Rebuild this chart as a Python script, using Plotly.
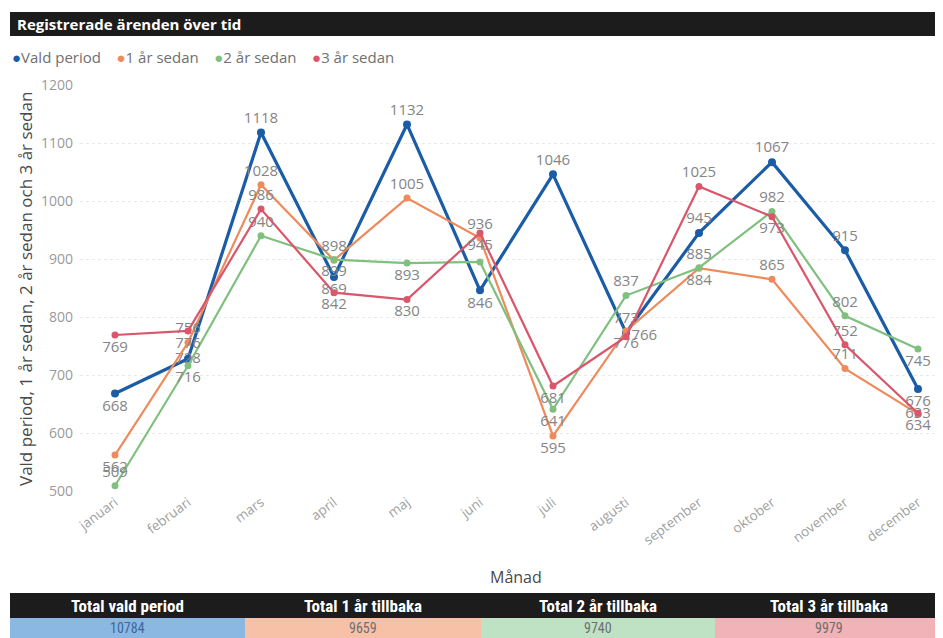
import plotly.graph_objects as go

# ---------------- data ----------------
months = ["januari", "februari", "mars", "april", "maj", "juni", "juli",
          "augusti", "september", "oktober", "november", "december"]
vald_period = [668, 728, 1118, 869, 1132, 846, 1046, 773, 945, 1067, 915, 676]
ar1_sedan = [562, 756, 1028, 898, 1005, 936, 595, 776, 884, 865, 711, 633]
ar2_sedan = [509, 716, 940, 899, 893, 895, 641, 837, 885, 982, 802, 745]
ar3_sedan = [769, 776, 986, 842, 830, 945, 681, 766, 1025, 973, 752, 634]
series_names = ["Vald period", "1 år sedan", "2 år sedan", "3 år sedan"]
y_ticks = [500, 600, 700, 800, 900, 1000, 1100, 1200]
total_labels = ["Total vald period", "Total 1 år tillbaka", "Total 2 år tillbaka", "Total 3 år tillbaka"]
totals = [10784, 9659, 9740, 9979]

# ---------------- layout helpers ----------------
# the page body has an 8px margin, so the figure is 8px smaller and
# reference pixel coordinates are shifted by 8
OFF = 8
W, H = 943 - OFF, 638 - OFF
def px(x): return (x - OFF) / W
def py(y): return 1 - (y - OFF) / H

FONT = "Open Sans, Noto Sans, sans-serif"
NARROW = "Roboto Condensed, Liberation Sans Narrow, DejaVu Sans Condensed, Roboto, sans-serif"
line_colors = ["#1B5CA6", "#EE8A5C", "#80C07F", "#D9566B"]
line_widths = [3.2, 2.2, 2.2, 2.2]
cell_colors = ["#8BB8E2", "#F7C1A7", "#C0E2C4", "#F1B2B8"]
cell_text_colors = ["#3C679A", "#6E6E6E", "#6E6E6E", "#6E6E6E"]
col_edges = [10, 245, 481, 715, 943]

T, B, M, R = "top center", "bottom center", "middle center", "middle right"
label_pos = [
    [B, M, T, B, T, B, T, T, T, T, T, B],
    [B, T, T, T, T, T, B, B, B, T, T, M],
    [T, B, T, B, B, B, B, T, T, T, T, B],
    [B, B, T, B, B, B, B, R, T, B, T, B],
]
hidden = [[], [], [5], []]

all_series = [vald_period, ar1_sedan, ar2_sedan, ar3_sedan]

fig = go.Figure()
for i, (name, vals) in enumerate(zip(series_names, all_series)):
    texts = ["" if j in hidden[i] else str(v) for j, v in enumerate(vals)]
    fig.add_trace(go.Scatter(
        x=months, y=vals, name=name, mode="lines+markers+text",
        line=dict(color=line_colors[i], width=line_widths[i]),
        marker=dict(color=line_colors[i], size=8 if i == 0 else 7),
        text=texts, textposition=label_pos[i],
        textfont=dict(family=FONT, size=15, color="#858585"),
        hoverinfo="skip", showlegend=False, cliponaxis=False,
    ))

x0, step = 115, 73.0
shapes = [dict(type="rect", xref="paper", yref="paper",
               x0=px(10), x1=px(943), y0=py(36), y1=py(12),
               fillcolor="#1C1C1C", line=dict(width=0), layer="below"),
          dict(type="rect", xref="paper", yref="paper",
               x0=px(col_edges[0]), x1=px(col_edges[-1]), y0=py(618), y1=py(593),
               fillcolor="#1C1C1C", line=dict(width=0), layer="below")]
for k in range(4):
    shapes.append(dict(type="rect", xref="paper", yref="paper",
                       x0=px(col_edges[k]), x1=px(col_edges[k + 1]),
                       y0=py(638), y1=py(618),
                       fillcolor=cell_colors[k], line=dict(width=0), layer="below"))

fig.update_layout(
    width=W, height=H,
    margin=dict(l=0, r=0, t=0, b=0, autoexpand=False),
    paper_bgcolor="white", plot_bgcolor="white",
    font=dict(family=FONT, color="#666666"),
    xaxis=dict(domain=[px(80), px(940)], type="category",
               range=[(80 - x0) / step, (940 - x0) / step],
               tickangle=-37, tickfont=dict(size=13.5, color="#A0A0A0"),
               showgrid=False, showline=False, zeroline=False, ticks=""),
    yaxis=dict(domain=[py(491), py(85)], range=[500, 1200],
               tickvals=y_ticks, tickfont=dict(size=14, color="#9A9A9A"),
               showgrid=True, gridcolor="#E9E9E9", griddash="dot", gridwidth=1,
               showline=False, zeroline=False, ticks="", ticklabelstandoff=6),
    shapes=shapes,
)

# title
fig.add_annotation(xref="paper", yref="paper", x=px(15), y=py(24),
                   xanchor="left", yanchor="middle", showarrow=False,
                   text="<b>Registrerade ärenden över tid</b>",
                   font=dict(family=FONT, size=15, color="white"))

# legend
leg_text = "&nbsp;&nbsp;&nbsp;&nbsp;".join(
    f"<span style='color:{c}'>●</span>{n}"
    for c, n in zip(line_colors, series_names))
fig.add_annotation(xref="paper", yref="paper", x=px(10), y=py(57),
                   xanchor="left", yanchor="middle", showarrow=False,
                   text=leg_text, font=dict(family=FONT, size=15, color="#707070"))

# axis titles
fig.add_annotation(xref="paper", yref="paper", x=px(25), y=py(289),
                   xanchor="center", yanchor="middle", showarrow=False, textangle=-90,
                   text="Vald period, 1 år sedan, 2 år sedan och 3 år sedan",
                   font=dict(family=FONT, size=17, color="#4A4A4A"))
fig.add_annotation(xref="paper", yref="paper", x=px(516), y=py(577),
                   xanchor="center", yanchor="middle", showarrow=False,
                   text="Månad", font=dict(family=FONT, size=16, color="#4A4A4A"))

# totals table (header + value row)
for k in range(4):
    cx = (col_edges[k] + col_edges[k + 1]) / 2
    fig.add_annotation(xref="paper", yref="paper", x=px(cx), y=py(605.5),
                       xanchor="center", yanchor="middle", showarrow=False,
                       text=f"<b>{total_labels[k]}</b>",
                       font=dict(family=NARROW, size=17, color="white"))
    fig.add_annotation(xref="paper", yref="paper", x=px(cx), y=py(628),
                       xanchor="center", yanchor="middle", showarrow=False,
                       text=str(totals[k]),
                       font=dict(family=NARROW, size=14, color=cell_text_colors[k]))

fig.write_html("out.html")
